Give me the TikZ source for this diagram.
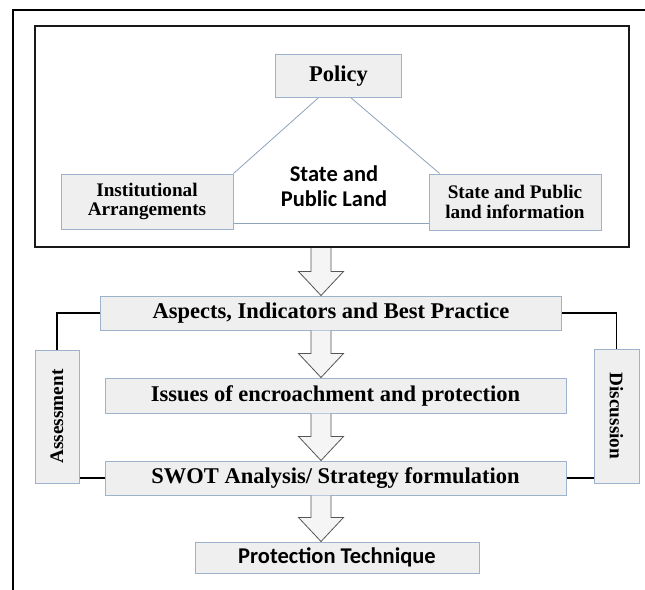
\documentclass[tikz,border=0pt]{standalone}
\usepackage{fontspec}
\usetikzlibrary{calc}
\newfontfamily\tnrfont{Liberation Serif}[BoldFont={Liberation Serif Bold}]
\newfontfamily\calfont{Carlito}
\definecolor{boxfill}{HTML}{EFEFEF}
\definecolor{boxline}{HTML}{9DB2CC}
\definecolor{triline}{HTML}{8FA3BA}
\definecolor{arrline}{HTML}{555555}
\definecolor{arrfill}{HTML}{F5F5F5}
\tikzset{
  bx/.style={draw=boxline, fill=boxfill, line width=1pt, inner sep=0pt, align=center},
  bigtxt/.style={font=\tnrfont\bfseries\fontsize{22.5}{24}\selectfont},
  smalltxt/.style={font=\tnrfont\bfseries\fontsize{19.2}{19.5}\selectfont},
  caltxt/.style={font=\calfont\bfseries\fontsize{22.5}{25}\selectfont},
  frameline/.style={draw=black, line width=1.6pt},
  conn/.style={draw=black, line width=1.5pt},
  tri/.style={draw=triline, line width=0.8pt},
  fatarr/.style={draw=arrline, fill=arrfill, line width=0.8pt, line join=miter},
}
\newcommand{\fatarrow}[2]{%
  \filldraw[fatarr] let \p1=(#1), \p2=(#2) in
    (311pt,\y1) -- (311pt,{\y2+24pt}) -- (298.5pt,{\y2+24pt}) -- (321pt,\y2)
    -- (343.5pt,{\y2+24pt}) -- (331pt,{\y2+24pt}) -- (331pt,\y1);
}
\begin{document}
\begin{tikzpicture}[x=1pt,y=-1pt]
\useasboundingbox (0,0) rectangle (645,589);
\fill[white] (0,0) rectangle (645,589);
% outer frame (clipped at right and bottom)
\draw[frameline] (13,600) -- (13,10) -- (650,10);
% inner box
\node[draw=black!90, line width=2pt, minimum width=594pt, minimum height=221pt, inner sep=0pt] (inner) at (332,136.5) {};
% top boxes
\node[bx, bigtxt, minimum width=126pt, minimum height=43pt] (policy) at (338.5,76) {Policy};
\node[bx, smalltxt, minimum width=172pt, minimum height=55pt] (inst) at (147,201.5) {Institutional\\Arrangements};
\node[bx, smalltxt, minimum width=172pt, minimum height=56pt] (spli) at (515,202) {State and Public\\land information};
\node[caltxt, align=center, inner sep=0pt] (spl) at (334,186) {State and\\Public Land};
% triangle
\coordinate (pl) at ($(policy.south west)!0.34!(policy.south east)$);
\coordinate (pr) at ($(policy.south west)!0.6!(policy.south east)$);
\coordinate (sl) at ($(spli.north west)!0.064!(spli.north east)$);
\draw[tri] (pl) -- (inst.north east);
\draw[tri] (pr) -- (sl);
\draw[tri] ($(inst.south east)+(0,-6)$) -- ($(spli.south west)+(0,-7)$);
% process boxes
\node[bx, bigtxt, minimum width=461pt, minimum height=34pt] (aspects) at (331,313) {Aspects, Indicators and Best Practice};
\node[bx, bigtxt, minimum width=461pt, minimum height=35pt] (issues) at (335.5,395.5) {Issues of encroachment and protection};
\node[bx, bigtxt, minimum width=461pt, minimum height=34pt] (swot) at (335.5,478) {SWOT Analysis/ Strategy formulation};
\node[bx, caltxt, minimum width=284pt, minimum height=31pt] (prot) at (337,557.5) {Protection Technique};
\node[bx, minimum width=44pt, minimum height=133pt] (assess) at (57,416.5) {};
\node[smalltxt, rotate=90, inner sep=0pt] at (assess.center) {Assessment};
\node[bx, minimum width=45pt, minimum height=134pt] (disc) at (616.5,416) {};
\node[smalltxt, rotate=-90, inner sep=0pt] at (disc.center) {Discussion};
% side connectors
\draw[conn] (aspects.west) -| (assess.north);
\draw[conn] (aspects.east) -| (disc.north);
\draw[conn] (assess.east |- swot.west) -- (swot.west);
\draw[conn] (swot.east) -- (disc.west |- swot.east);
% fat arrows
\fatarrow{inner.south}{aspects.north}
\fatarrow{aspects.south}{issues.north}
\fatarrow{issues.south}{swot.north}
\fatarrow{swot.south}{prot.north}
\end{tikzpicture}
\end{document}
